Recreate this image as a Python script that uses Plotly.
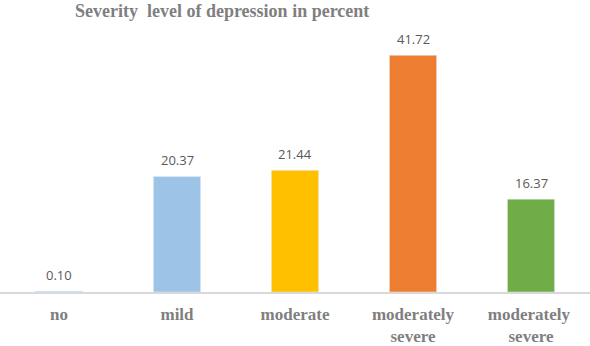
import plotly.graph_objects as go

categories = ["no", "mild", "moderate", "moderately<br>severe", "moderately <br>severe"]
values = [0.10, 20.37, 21.44, 41.72, 16.37]
value_labels = ["0.10", "20.37", "21.44", "41.72", "16.37"]
colors = ["#5b9bd5", "#9dc3e6", "#ffc000", "#ed7d31", "#70ad47"]
title_text = "Severity  level of depression in percent"

fig = go.Figure()
fig.add_trace(go.Bar(
    x=categories, y=values, marker_color=colors, width=0.4,
    cliponaxis=False, hoverinfo="skip",
))
annotations = [dict(text="<b>" + title_text + "</b>", xref="paper", yref="paper", x=73/590, y=1.0,
                    xanchor="left", yanchor="middle", showarrow=False, yshift=-3,
                    font=dict(family="Liberation Serif, Times New Roman, serif", size=18, color="#7f7f7f"))]
for c, v, t in zip(categories, values, value_labels):
    annotations.append(dict(text=t, x=c, y=v, xref="x", yref="y", showarrow=False,
                            yanchor="middle", yshift=16,
                            font=dict(family="Open Sans, Liberation Sans, sans-serif", size=13, color="#595959")))
fig.update_layout(
    width=590, height=346,
    margin=dict(l=0, r=0, t=8, b=54, autoexpand=False),
    paper_bgcolor="white", plot_bgcolor="white",
    showlegend=False,
    bargap=0.6,
    xaxis=dict(showline=True, linecolor="#d9d9d9", linewidth=1.5, showgrid=False, ticks="",
               automargin=False, ticklabelstandoff=6,
               tickfont=dict(family="Liberation Serif, Times New Roman, serif", size=17, color="#7f7f7f")),
    yaxis=dict(range=[0, 50.06], visible=False, showgrid=False, automargin=False),
    annotations=annotations,
)
fig.update_xaxes(tickprefix="<b>", ticksuffix="</b>")
fig.write_html("out.html", config={"displayModeBar": False},
               post_script="document.body.style.margin='0';document.body.style.overflow='hidden';")
